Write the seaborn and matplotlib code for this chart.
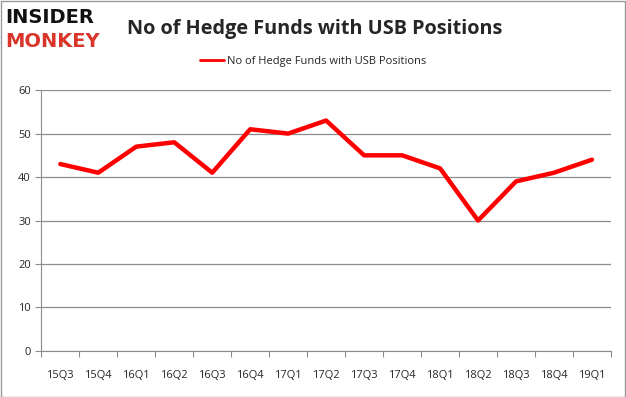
import matplotlib
matplotlib.use("Agg")
import matplotlib.pyplot as plt
from matplotlib.lines import Line2D
import seaborn as sns
import pandas as pd

quarters = ["15Q3", "15Q4", "16Q1", "16Q2", "16Q3", "16Q4", "17Q1", "17Q2",
            "17Q3", "17Q4", "18Q1", "18Q2", "18Q3", "18Q4", "19Q1"]
hedge_funds = [43, 41, 47, 48, 41, 51, 50, 53, 45, 45, 42, 30, 39, 41, 44]
series_name = "No of Hedge Funds with USB Positions"

df = pd.DataFrame({"Quarter": quarters, "Funds": hedge_funds})
df["pos"] = range(len(df))

sns.set_style("white")
plt.rcParams["font.family"] = ["Open Sans", "DejaVu Sans"]

fig = plt.figure(figsize=(6.26, 3.97), dpi=100)
ax = fig.add_axes([0.066, 0.116, 0.91, 0.657])

sns.lineplot(data=df, x="pos", y="Funds", color="#ff0000", linewidth=3.2,
             ax=ax, legend=False)

ax.set_xlim(-0.5, len(quarters) - 0.5)
ax.set_ylim(0, 60)
ax.set_yticks(range(0, 61, 10))
ax.yaxis.grid(True, color="#8c8c8c", linewidth=0.9)
ax.set_axisbelow(True)
ax.set_xticks([i - 0.5 for i in range(len(quarters) + 1)], minor=False)
ax.set_xticklabels([])
ax.set_xticks(range(len(quarters)), minor=True)
ax.set_xticklabels(quarters, minor=True)
ax.tick_params(axis="x", which="major", length=4, color="#8c8c8c", direction="out", bottom=True)
ax.tick_params(axis="x", which="minor", length=0, pad=14, labelsize=8)
ax.tick_params(axis="y", length=4, color="#8c8c8c", direction="out", left=True, labelsize=8)
ax.set_xlabel("")
ax.set_ylabel("")
for s in ["top", "right"]:
    ax.spines[s].set_visible(False)
ax.spines["left"].set_color("#8c8c8c")
ax.spines["bottom"].set_color("#8c8c8c")

# title and legend
fig.text(0.503, 0.928, series_name, ha="center", va="center",
         fontsize=14.3, fontweight="bold")
handle = Line2D([], [], color="#ff0000", linewidth=2)
fig.legend(handles=[handle], labels=[series_name], loc="center",
           bbox_to_anchor=(0.5, 0.845), frameon=False, fontsize=8,
           handlelength=2.2, handletextpad=0.2)

# logo
fig.text(0.008, 0.955, "INSIDER", ha="left", va="center", fontsize=14,
         fontweight="heavy", color="#111111", family="DejaVu Sans")
fig.text(0.008, 0.895, "MONKEY", ha="left", va="center", fontsize=14,
         fontweight="heavy", color="#d9352a", family="DejaVu Sans")

# frame around figure
fig.patches.append(plt.Rectangle((0.001, 0.001), 0.997, 0.997, transform=fig.transFigure,
                                 fill=False, edgecolor="#999999", linewidth=1))

fig.savefig("out.png", dpi=100)
